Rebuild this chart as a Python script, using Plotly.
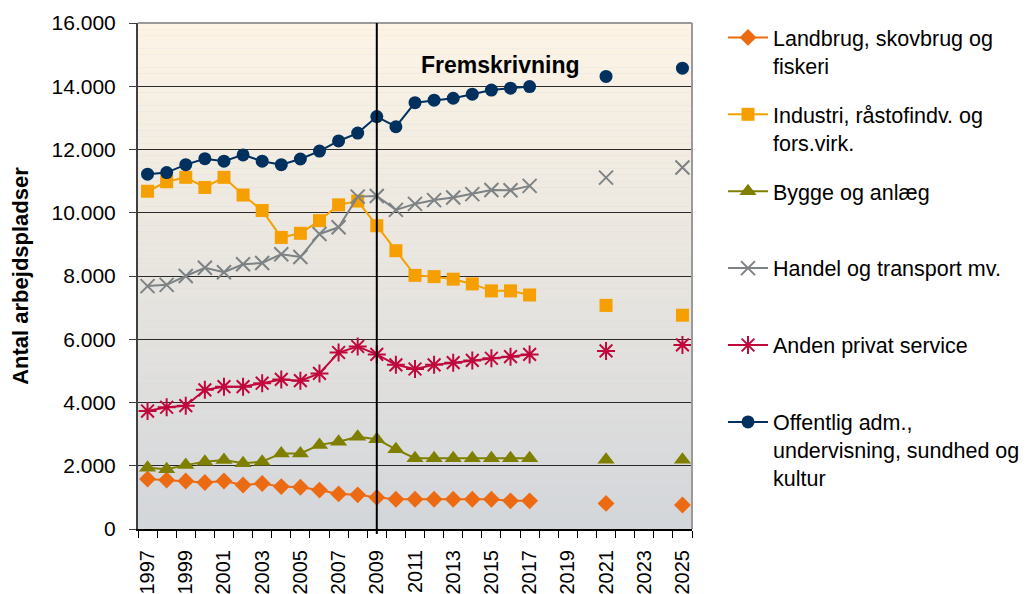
import plotly.graph_objects as go

years = list(range(1997, 2026))
N = None

landbrug = [1580, 1550, 1520, 1470, 1520, 1390, 1440, 1340, 1320, 1230, 1110, 1080, 1000, 940, 940,
            940, 940, 940, 940, 890, 890, N, N, N, 810, N, N, N, 760]
industri = [10680, 10980, 11120, 10800, 11120, 10560, 10070, 9220, 9350, 9750, 10250, 10370, 9590, 8800, 8020,
            7980, 7900, 7750, 7530, 7530, 7400, N, N, N, 7070, N, N, N, 6760]
bygge = [1940, 1890, 2020, 2130, 2180, 2080, 2130, 2390, 2390, 2660, 2760, 2920, 2840, 2520, 2240,
         2240, 2240, 2240, 2240, 2240, 2240, N, N, N, 2190, N, N, N, 2190]
handel = [7680, 7720, 8000, 8260, 8120, 8370, 8410, 8690, 8600, 9330, 9540, 10510, 10530, 10090, 10280,
          10400, 10480, 10590, 10720, 10710, 10850, N, N, N, 11110, N, N, N, 11430]
anden = [3730, 3850, 3900, 4400, 4500, 4500, 4610, 4730, 4690, 4920, 5580, 5770, 5520, 5190, 5060,
         5190, 5260, 5330, 5400, 5450, 5520, N, N, N, 5630, N, N, N, 5820]
offentlig = [11220, 11270, 11520, 11710, 11630, 11830, 11630, 11520, 11700, 11950, 12270, 12520, 13040, 12720, 13480,
             13560, 13620, 13750, 13880, 13940, 13990, N, N, N, 14310, N, N, N, 14570]

names = [
    "Landbrug, skovbrug og<br>fiskeri",
    "Industri, råstofindv. og<br>fors.virk.",
    "Bygge og anlæg<br> ",
    "Handel og transport mv.<br> ",
    "Anden privat service<br> ",
    "Offentlig adm.,<br>undervisning, sundhed og<br>kultur",
]
series = [landbrug, industri, bygge, handel, anden, offentlig]
colors = ["#EC6A12", "#F5A000", "#808000", "#7D8285", "#C0083C", "#00305E"]
symbols = ["diamond", "square", "triangle-up", "x-thin-open", "asterisk-open", "circle"]
sizes = [13, 13, 15, 14, 15, 13]

tick_years = list(range(1997, 2026, 2))
y_ticks = list(range(0, 16001, 2000))
split_year = 2009

FONT = "Liberation Sans, Arial, sans-serif"

fig = go.Figure()
for i, (nm, vals, c, s, sz) in enumerate(zip(names, series, colors, symbols, sizes)):
    marker = dict(symbol=s, size=sz, color=c)
    if s in ("x-thin-open", "asterisk-open"):
        marker["line"] = dict(color=c, width=2)
    fig.add_trace(go.Scatter(
        x=years, y=vals, name=nm, mode="lines+markers",
        line=dict(color=c, width=2), marker=marker,
        connectgaps=False, legendgroup=str(i),
    ))

# background gradient bands
shapes = []
nb = 80
top = (253, 244, 229)
bot = (211, 214, 218)
for k in range(nb):
    t = (k + 0.5) / nb
    col = tuple(round(top[j] * (1 - t) + bot[j] * t) for j in range(3))
    shapes.append(dict(type="rect", xref="x domain", yref="y domain",
                       x0=0, x1=1, y0=1 - (k + 1) / nb, y1=1 - k / nb,
                       fillcolor="rgb(%d,%d,%d)" % col, line=dict(width=0), layer="below"))
# top and right border
shapes.append(dict(type="line", xref="x domain", yref="y domain", x0=0, x1=1, y0=1, y1=1,
                   line=dict(color="#9a9a9a", width=2), layer="above"))
shapes.append(dict(type="line", xref="x domain", yref="y domain", x0=1, x1=1, y0=0, y1=1,
                   line=dict(color="#9a9a9a", width=2), layer="above"))
# projection divider
shapes.append(dict(type="line", xref="x", yref="y domain", x0=split_year, x1=split_year, y0=-0.01, y1=1,
                   line=dict(color="#000000", width=2), layer="above"))

# page body has an 8px default margin, so the figure is laid out 8px smaller/shifted
W, H = 1020, 586
PL, PT = 130, 15
PR, PB = W - 684, H - 521
PW, PH = W - PL - PR, H - PT - PB

fig.update_layout(
    width=W, height=H,
    margin=dict(l=PL, r=PR, t=PT, b=PB, autoexpand=False),
    paper_bgcolor="white",
    plot_bgcolor="rgb(211,214,218)",
    font=dict(family=FONT, size=21, color="#000000"),
    separators=",.",
    shapes=shapes,
    showlegend=True,
    legend=dict(
        x=(715 - PL) / PW, xanchor="left", y=1.012, yanchor="top",
        font=dict(family=FONT, size=21.5, color="#000000"),
        traceorder="grouped", tracegroupgap=18, valign="top",
        bgcolor="rgba(0,0,0,0)", itemwidth=40, maxheight=580,
    ),
    annotations=[dict(
        x=(492 - PL) / PW, y=1 - (42 - PT) / PH, xref="paper", yref="paper",
        text="<b>Fremskrivning</b>", showarrow=False,
        font=dict(family=FONT, size=23, color="#000000"),
    )],
)

fig.update_xaxes(
    range=[1996.5, 2025.5], tickmode="array", tickvals=tick_years,
    ticktext=[str(y) for y in tick_years], tickangle=-90,
    ticks="outside", ticklen=7, tickcolor="rgba(0,0,0,0)",
    ticklabelstandoff=4,
    minor=dict(tickmode="array", tickvals=[y - 0.5 for y in range(1997, 2027)],
               ticks="outside", ticklen=7, tickcolor="#000000", tickwidth=1, showgrid=False),
    showline=True, linecolor="#000000", linewidth=2,
    showgrid=False, zeroline=False,
    tickfont=dict(family=FONT, size=20),
)
fig.update_yaxes(
    range=[0, 16000], tickmode="array", tickvals=y_ticks, tickformat=",d",
    ticks="outside", ticklen=7, tickcolor="#404040", tickwidth=1,
    ticklabelstandoff=9,
    showline=True, linecolor="#404040", linewidth=2,
    showgrid=True, gridcolor="#2a2a2a", gridwidth=1, zeroline=False,
    tickfont=dict(family=FONT, size=21),
    title=dict(text="<b>Antal arbejdspladser</b>", font=dict(family=FONT, size=22), standoff=20),
)

fig.write_html("out.html")
